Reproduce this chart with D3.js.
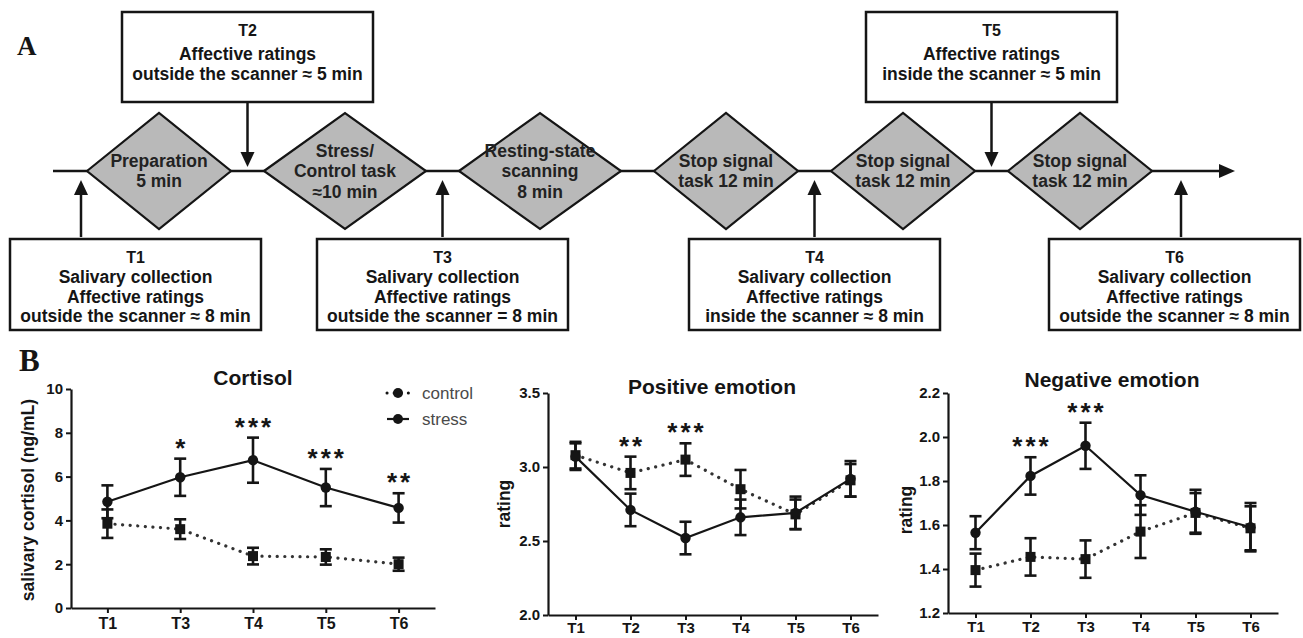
<!DOCTYPE html>
<html><head><meta charset="utf-8">
<script src="https://cdn.jsdelivr.net/npm/d3@7"></script>
<style>body{margin:0;background:#fff;} svg{display:block;}</style>
</head><body>
<svg id="c" width="1303" height="638"></svg>
<script>
// ---------- Panel A data ----------
const stageLabels = [
  ["Preparation", "5 min"],
  ["Stress/", "Control task", "≈10 min"],
  ["Resting-state", "scanning", "8 min"],
  ["Stop signal", "task 12 min"],
  ["Stop signal", "task 12 min"],
  ["Stop signal", "task 12 min"]
];
const timepointNames = ["T1", "T2", "T3", "T4", "T5", "T6"];
const timepointLines = [
  ["Salivary collection", "Affective ratings", "outside the scanner ≈ 8 min"],
  ["Affective ratings", "outside the scanner ≈ 5 min"],
  ["Salivary collection", "Affective ratings", "outside the scanner = 8 min"],
  ["Salivary collection", "Affective ratings", "inside the scanner ≈ 8 min"],
  ["Affective ratings", "inside the scanner ≈ 5 min"],
  ["Salivary collection", "Affective ratings", "outside the scanner ≈ 8 min"]
];
const timepointGap = [0, 1, 2, 4, 5, 6];          // gap index (before stage i)
const timepointSide = ["below", "above", "below", "below", "above", "below"];

// ---------- Panel B data ----------
const cortisolCats = ["T1", "T3", "T4", "T5", "T6"];
const cortisolControl    = [3.85, 3.60, 2.37, 2.33, 2.00];
const cortisolControlErr = [0.65, 0.45, 0.38, 0.35, 0.30];
const cortisolStress     = [4.85, 5.97, 6.75, 5.50, 4.57];
const cortisolStressErr  = [0.75, 0.85, 1.03, 0.85, 0.67];
const cortisolSig = ["", "*", "***", "***", "**"];
const cortisolTicks = [0, 2, 4, 6, 8, 10];

const emotionCats = ["T1", "T2", "T3", "T4", "T5", "T6"];
const positiveControl    = [3.08, 2.96, 3.05, 2.85, 2.68, 2.91];
const positiveControlErr = [0.09, 0.11, 0.11, 0.13, 0.10, 0.11];
const positiveStress     = [3.07, 2.71, 2.52, 2.66, 2.69, 2.92];
const positiveStressErr  = [0.09, 0.11, 0.11, 0.12, 0.11, 0.12];
const positiveSig = ["", "**", "***", "", "", ""];
const positiveTicks = [2.0, 2.5, 3.0, 3.5];

const negativeControl    = [1.395, 1.455, 1.445, 1.57, 1.655, 1.585];
const negativeControlErr = [0.075, 0.085, 0.085, 0.12, 0.09, 0.10];
const negativeStress     = [1.565, 1.823, 1.96, 1.736, 1.66, 1.59];
const negativeStressErr  = [0.075, 0.085, 0.105, 0.09, 0.10, 0.11];
const negativeSig = ["", "***", "***", "", "", ""];
const negativeTicks = [1.2, 1.4, 1.6, 1.8, 2.0, 2.2];

const legendNames = ["control", "stress"];

// ---------- drawing ----------
const svg = d3.select("#c");
const SANS = "'Liberation Sans', Arial, sans-serif";
const SERIF = "'Liberation Serif', 'Times New Roman', serif";
const INK = "#151515";

// Panel label A
svg.append("text").attr("x", 17).attr("y", 55).attr("font-family", SERIF)
  .attr("font-weight", "bold").attr("font-size", 27).attr("fill", INK).text("A");

// timeline layout
const lineY = 171, gapW = 33, startX = 87, dHalfH = 58;
let cursor = startX;
const stages = stageLabels.map(lines => {
  const hw = lines.length > 2 ? 81 : 72;
  const s = { lines, left: cursor, cx: cursor + hw, right: cursor + 2 * hw, hw };
  cursor += 2 * hw + gapW;
  return s;
});
const gapX = i => i === 0 ? stages[0].left - 6
  : i === stages.length ? stages[stages.length - 1].right + 29
  : (stages[i - 1].right + stages[i].left) / 2;

const A = svg.append("g");
// main line + arrow head
const lineEnd = 1235;
A.append("line").attr("x1", 53).attr("x2", lineEnd - 14).attr("y1", lineY).attr("y2", lineY)
  .attr("stroke", INK).attr("stroke-width", 2.5);
A.append("path").attr("d", `M${lineEnd},${lineY} L${lineEnd - 16},${lineY - 7} L${lineEnd - 16},${lineY + 7} Z`).attr("fill", INK);

// diamonds
const dg = A.selectAll("g.stage").data(stages).join("g").attr("class", "stage");
dg.append("path")
  .attr("d", d => `M${d.left},${lineY} L${d.cx},${lineY - dHalfH} L${d.right},${lineY} L${d.cx},${lineY + dHalfH} Z`)
  .attr("fill", "#b9b9b9").attr("stroke", INK).attr("stroke-width", 2.2);
dg.each(function (d) {
  const n = d.lines.length;
  d3.select(this).selectAll("text").data(d.lines).join("text")
    .attr("x", d.cx).attr("y", (t, i) => lineY + (i - (n - 1) / 2) * 20.5 + 6)
    .attr("text-anchor", "middle").attr("font-family", SANS).attr("font-weight", "bold")
    .attr("font-size", 17.5).attr("fill", "#222").text(t => t);
});

// time points: arrows and boxes
const boxW = 251;
timepointNames.forEach((name, k) => {
  const ax = gapX(timepointGap[k]);
  const side = timepointSide[k];
  const g = A.append("g");
  let bx = ax - boxW / 2;
  bx = Math.max(10, Math.min(1300 - boxW, bx));
  const by = side === "above" ? 12 : 239;
  const boxH = side === "above" ? 90 : 91;
  if (side === "above") {
    const tip = lineY - 4;
    g.append("line").attr("x1", ax).attr("x2", ax).attr("y1", by + boxH).attr("y2", tip - 12)
      .attr("stroke", INK).attr("stroke-width", 2.5);
    g.append("path").attr("d", `M${ax},${tip} L${ax - 7},${tip - 15} L${ax + 7},${tip - 15} Z`).attr("fill", INK);
  } else {
    const tip = lineY + 9;
    g.append("line").attr("x1", ax).attr("x2", ax).attr("y1", by - 2).attr("y2", tip + 12)
      .attr("stroke", INK).attr("stroke-width", 2.5);
    g.append("path").attr("d", `M${ax},${tip} L${ax - 7},${tip + 15} L${ax + 7},${tip + 15} Z`).attr("fill", INK);
  }
  g.append("rect").attr("x", bx).attr("y", by).attr("width", boxW).attr("height", boxH)
    .attr("fill", "#fff").attr("stroke", INK).attr("stroke-width", 2.5);
  const cx = bx + boxW / 2;
  g.append("text").attr("x", cx).attr("y", by + 23.5).attr("text-anchor", "middle")
    .attr("font-family", SANS).attr("font-weight", "bold").attr("font-size", 16).attr("fill", INK).text(name);
  const lines = timepointLines[k];
  const offs = side === "above" ? [48, 68] : [44, 64, 83];
  lines.forEach((t, i) => {
    g.append("text").attr("x", cx).attr("y", by + offs[i]).attr("text-anchor", "middle")
      .attr("font-family", SANS).attr("font-weight", "bold").attr("font-size", 17.5).attr("fill", INK).text(t);
  });
});

// Panel label B
svg.append("text").attr("x", 19).attr("y", 371).attr("font-family", SERIF)
  .attr("font-weight", "bold").attr("font-size", 31).attr("fill", INK).text("B");

function panel(o) {
  const g = svg.append("g");
  const x = d3.scalePoint().domain(o.cats).range([o.x0, o.x1]).padding(0.5);
  const y = d3.scaleLinear().domain(o.domain).range([o.y0, o.y1]);

  // axes
  const yAx = g.append("g").attr("transform", `translate(${o.x0},0)`)
    .call(d3.axisLeft(y).tickValues(o.ticks).tickFormat(d3.format(o.fmt)).tickSize(5).tickSizeOuter(0).tickPadding(3));
  const xAx = g.append("g").attr("transform", `translate(0,${o.y0})`)
    .call(d3.axisBottom(x).tickSize(5).tickSizeOuter(0).tickPadding(o.xPad));
  [yAx, xAx].forEach(a => {
    a.select(".domain").attr("stroke", INK).attr("stroke-width", 2.2);
    a.selectAll(".tick line").attr("stroke", INK).attr("stroke-width", 2);
    a.selectAll("text").attr("font-family", SANS).attr("font-weight", "bold").attr("fill", INK);
  });
  yAx.selectAll("text").attr("font-size", 15);
  xAx.selectAll("text").attr("font-size", o.xFont);

  const series = [
    { v: o.control, e: o.controlErr, dotted: true },
    { v: o.stress, e: o.stressErr, dotted: false }
  ];
  series.forEach(s => {
    const pts = o.cats.map((c, i) => ({ c, v: s.v[i], e: s.e[i] }));
    g.append("path").datum(pts)
      .attr("d", d3.line().x(d => x(d.c)).y(d => y(d.v)))
      .attr("fill", "none").attr("stroke", s.dotted ? "#333" : INK)
      .attr("stroke-width", s.dotted ? 3.2 : 2.2)
      .attr("stroke-dasharray", s.dotted ? "0.1,7.5" : null)
      .attr("stroke-linecap", s.dotted ? "round" : "butt");
    const eb = g.append("g").selectAll("g").data(pts).join("g");
    eb.append("line").attr("x1", d => x(d.c)).attr("x2", d => x(d.c))
      .attr("y1", d => y(d.v - d.e)).attr("y2", d => y(d.v + d.e))
      .attr("stroke", INK).attr("stroke-width", 2.6);
    [-1, 1].forEach(sg => {
      eb.append("line").attr("x1", d => x(d.c) - 6).attr("x2", d => x(d.c) + 6)
        .attr("y1", d => y(d.v + sg * d.e)).attr("y2", d => y(d.v + sg * d.e))
        .attr("stroke", INK).attr("stroke-width", 2.6);
    });
    if (s.dotted) {
      eb.append("rect").attr("x", d => x(d.c) - 5).attr("y", d => y(d.v) - 5)
        .attr("width", 10).attr("height", 10).attr("fill", INK);
    } else {
      eb.append("circle").attr("cx", d => x(d.c)).attr("cy", d => y(d.v)).attr("r", 5.2).attr("fill", INK);
    }
  });

  // significance stars
  o.cats.forEach((c, i) => {
    if (!o.sig[i]) return;
    const top = Math.max(o.control[i] + o.controlErr[i], o.stress[i] + o.stressErr[i]);
    const cy = y(top) - 17;
    g.append("text").attr("x", x(c) + 1.5).attr("y", cy + 15).attr("text-anchor", "middle")
      .attr("font-family", SANS).attr("font-weight", "bold").attr("font-size", 26)
      .attr("letter-spacing", 3).attr("fill", INK).text(o.sig[i]);
  });

  // title
  g.append("text").attr("x", o.titleX).attr("y", o.titleY).attr("text-anchor", "middle")
    .attr("font-family", SANS).attr("font-weight", "bold").attr("font-size", 21).attr("fill", INK).text(o.title);
  // y label
  g.append("text").attr("transform", `translate(${o.ylabelX},${o.ylabelY}) rotate(-90)`)
    .attr("text-anchor", "middle").attr("font-family", SANS).attr("font-weight", "bold")
    .attr("font-size", 17.5).attr("fill", INK).text(o.ylabel);

  if (o.legend) {
    const lg = g.append("g");
    legendNames.forEach((n, i) => {
      const ly = o.legend.y + i * 26;
      lg.append("line").attr("x1", o.legend.x).attr("x2", o.legend.x + 22).attr("y1", ly).attr("y2", ly)
        .attr("stroke", INK).attr("stroke-width", i === 0 ? 3 : 2.2)
        .attr("stroke-dasharray", i === 0 ? "0.1,7" : null).attr("stroke-linecap", i === 0 ? "round" : "butt");
      lg.append("circle").attr("cx", o.legend.x + 11).attr("cy", ly).attr("r", 5).attr("fill", INK);
      lg.append("text").attr("x", o.legend.x + 35).attr("y", ly + 6).attr("font-family", SANS)
        .attr("font-size", 17).attr("fill", "#4a4a4a").text(n);
    });
  }
}

panel({
  cats: cortisolCats, control: cortisolControl, controlErr: cortisolControlErr,
  stress: cortisolStress, stressErr: cortisolStressErr, sig: cortisolSig,
  ticks: cortisolTicks, fmt: "d", domain: [0, 10],
  x0: 71, x1: 435, y0: 608, y1: 389, xPad: 5, xFont: 16,
  title: "Cortisol", titleX: 253, titleY: 385,
  ylabel: "salivary cortisol (ng/mL)", ylabelX: 34, ylabelY: 500,
  legend: { x: 387, y: 393 }
});
panel({
  cats: emotionCats, control: positiveControl, controlErr: positiveControlErr,
  stress: positiveStress, stressErr: positiveStressErr, sig: positiveSig,
  ticks: positiveTicks, fmt: ".1f", domain: [2.0, 3.5],
  x0: 548, x1: 878, y0: 615, y1: 393, xPad: 2, xFont: 15,
  title: "Positive emotion", titleX: 712, titleY: 394,
  ylabel: "rating", ylabelX: 510, ylabelY: 504
});
panel({
  cats: emotionCats, control: negativeControl, controlErr: negativeControlErr,
  stress: negativeStress, stressErr: negativeStressErr, sig: negativeSig,
  ticks: negativeTicks, fmt: ".1f", domain: [1.2, 2.2],
  x0: 948, x1: 1278, y0: 613, y1: 393, xPad: 3, xFont: 15,
  title: "Negative emotion", titleX: 1112, titleY: 387,
  ylabel: "rating", ylabelX: 912, ylabelY: 510
});
</script>
</body></html>
